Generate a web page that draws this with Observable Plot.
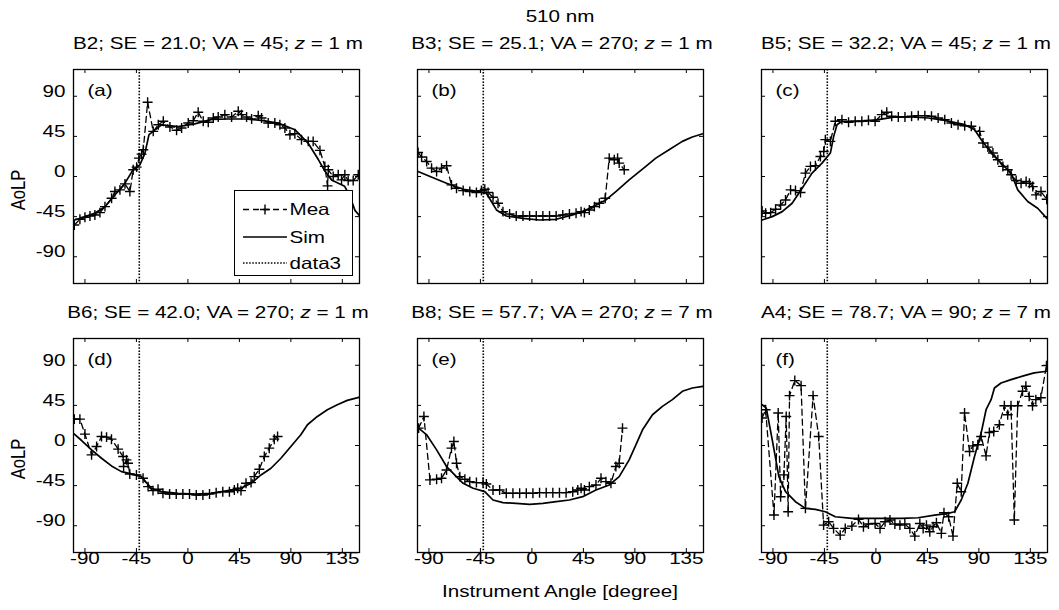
<!DOCTYPE html>
<html>
<head>
<meta charset="utf-8">
<script src="https://cdn.jsdelivr.net/npm/d3@7"></script>
<script src="https://cdn.jsdelivr.net/npm/@observablehq/plot@0.6"></script>
<style>
  html, body { margin: 0; padding: 0; background: #fff; }
  #fig { position: relative; width: 1059px; height: 610px; overflow: hidden; background: #fff; }
  #fig svg { position: absolute; overflow: visible; }
</style>
</head>
<body>
<div id="fig"></div>
<script>
// ---- axis ticks -------------------------------------------------------
const xTicks = [-90, -45, 0, 45, 90, 135];
const yTicks = [-90, -45, 0, 45, 90];
const xDomain = [-100, 150];
const yDomain = [-120, 120];

// ---- panel annotations ------------------------------------------------
const panelLetters = ["(a)", "(b)", "(c)", "(d)", "(e)", "(f)"];
const stations = ["B2", "B3", "B5", "B6", "B8", "A4"];
const sunElevation = ["21.0", "25.1", "32.2", "42.0", "57.7", "78.7"];
const viewAzimuth = [45, 270, 45, 270, 270, 90];
const depth = [1, 1, 1, 1, 7, 7];
const refAngle = -42.5; // dotted vertical reference ("data3")
const wavelength = "510 nm";
const seriesNames = ["Mea", "Sim", "data3"];

// ---- measured AoLP (dashed, + markers) --------------------------------
const meaA = [[-99.3,-54.4],[-94.4,-48],[-90,-45.8],[-85.6,-44.3],[-81.3,-43.1],[-76.9,-40.5],[-72.5,-33.8],[-66.7,-24.4],[-63.8,-16.9],[-59.4,-15],[-55,-8.3],[-50.7,-16.9],[-47.8,7.5],[-44.8,10.5],[-42.8,20.6],[-40.5,25.1],[-39,30],[-35.2,83.3],[-30.3,50.6],[-25.9,58.1],[-21.5,61.9],[-15.7,55.5],[-9.9,51.8],[-5.5,54.4],[0.3,60],[4.7,62.6],[9,72],[13.4,61.9],[17.8,60.8],[22.2,65.6],[26.5,66.8],[32.3,69.4],[38.2,66.8],[44,73.1],[46.9,69.4],[51.3,66.8],[55.7,64.5],[61.5,68.3],[64.4,65.6],[70.2,60],[76,60],[80.4,58.1],[84.8,54.4],[89.2,46.9],[93.5,48],[99.3,41.3],[105.2,39.4],[109.5,39.4],[115.4,29.3],[119.7,11.3],[122.1,-10.5],[122.7,7.5],[127,0],[131.4,1.9],[134.3,-3.8],[137.2,1.9],[140.1,-4.5],[144.5,-4.5],[148.9,1.9]];
const meaB = [[-99.5,27],[-96.4,21.8],[-92,16.9],[-87.7,9.4],[-83.3,5.6],[-79,9.4],[-74.6,12],[-70.3,-9.4],[-65.9,-13.1],[-60.1,-15.8],[-54.3,-16.9],[-48.5,-18],[-44.1,-15.8],[-41.2,-14.3],[-38.3,-18],[-34,-23.3],[-29.6,-30],[-25.3,-39.4],[-19.5,-42],[-13.7,-44.3],[-7.8,-44.3],[-2,-44.3],[3.8,-44.3],[9.6,-44.3],[15.4,-44.3],[21.2,-44.3],[27,-43.1],[32.8,-42],[38.6,-41.3],[43,-39.4],[45.9,-40.5],[50.2,-37.5],[54.6,-33.8],[59,-30],[64.1,-24.4],[67.6,20.6],[72,18.8],[74.9,20.6],[76.3,15],[80.7,7.5]];
const meaC = [[-99.5,-38.6],[-96.4,-41.3],[-92,-40.5],[-87.7,-36.8],[-83.3,-31.9],[-79,-26.3],[-74.6,-15],[-70.3,-15.8],[-65.9,-18],[-61.6,3.8],[-57.2,11.3],[-52.9,12],[-48.5,22.5],[-45.6,28],[-44.2,41.3],[-39.8,39.4],[-35.5,61.9],[-29.7,63.8],[-23.9,60.8],[-18.1,61.9],[-12.3,61.9],[-6.5,63],[-0.7,61.9],[5.1,69.4],[9.5,72],[13.8,67.5],[19.6,66.8],[25.4,66.8],[31.2,67.5],[37,68.3],[42.8,68.3],[48.6,67.5],[54.4,65.6],[60.2,63.8],[66,60],[71.8,58.1],[77.6,56.9],[83.4,56.3],[90.7,50.6],[93.6,37.5],[97.9,33],[102.3,26.3],[106.6,18.8],[111,11.3],[115.3,7.5],[118.2,1.9],[122.6,-4.5],[126.9,-7.5],[131.3,-5.6],[134.2,-7.5],[137.1,-11.3],[140,-20.6],[144.3,-16.9],[149.3,-25.5]];
const meaD = [[-99.3,29.6],[-94.4,29.6],[-90,12.8],[-84.2,-10.5],[-79.8,-1.1],[-75.5,10.1],[-71.1,9.4],[-66.8,7.1],[-61,-4.1],[-56.6,-12.4],[-56.2,-23.6],[-53.7,-16.1],[-52.3,-19.9],[-50.8,-31.9],[-45,-33],[-39.2,-36.8],[-34.8,-46.1],[-30.5,-50.6],[-26.1,-49.1],[-21.8,-53.6],[-16,-54.4],[-10.2,-54.4],[-4.4,-54.4],[1.4,-54.4],[7.3,-55.5],[13.1,-55.5],[18.9,-54.4],[24.7,-52.9],[30.5,-51.8],[36.3,-51.8],[40.6,-49.9],[43.5,-48],[46.4,-50.6],[50.8,-42.4],[55.2,-41.6],[58,-34.9],[62.4,-26.6],[66.8,-12.4],[71.1,-3],[75.5,7.1],[78.4,10.1]];
const meaE = [[-99,19.5],[-94.4,32.6],[-89.1,-38.6],[-83.3,-37.9],[-79,-36.8],[-74.6,-27.4],[-70.3,-3],[-68.2,4.5],[-65.9,-19.9],[-63,-34.9],[-58.6,-37.9],[-54.3,-40.5],[-48.5,-41.6],[-42.7,-41.6],[-39.8,-43.1],[-34,-49.9],[-28.2,-49.9],[-22.4,-53.6],[-16.6,-53.6],[-10.7,-53.6],[-4.9,-53.6],[0.9,-53.6],[6.7,-52.9],[12.5,-52.9],[18.3,-52.9],[24.1,-52.9],[29.9,-52.9],[35.7,-51.8],[40.1,-49.9],[43,-48],[45.9,-49.9],[50.2,-46.1],[56,-44.3],[60.4,-36.8],[64.7,-40.5],[69.1,-42.4],[73.4,-23.6],[76.3,-19.9],[79.2,19.5]];
const meaF = [[-99.5,30.8],[-96.4,40.1],[-89.1,-78],[-85.4,36.4],[-83.3,-57.4],[-80.4,-33],[-78.4,32.6],[-76.7,-74.3],[-75.5,55.9],[-70.9,72.8],[-65.4,67.1],[-61.6,-70.5],[-54.9,55.9],[-50,10.1],[-45.7,-89.3],[-41.3,-85.5],[-37,-93],[-31.2,-100.5],[-26.8,-93],[-21,-90.4],[-15.2,-82.9],[-10.9,-91.1],[-6.5,-88.1],[-0.7,-87.4],[3.6,-93],[8,-85.5],[12.3,-83.6],[16.6,-88.1],[21,-89.3],[25.3,-88.1],[29.7,-93],[34,-101.6],[38.4,-87.4],[41.3,-93],[44.2,-89.3],[47.1,-96.8],[50,-91.1],[52.9,-86.6],[57.2,-98.6],[59.5,-75.4],[63.6,-79.9],[67.4,-101.6],[71.1,-42.4],[74.6,-51.8],[77.5,36.4],[81.9,-6.8],[84.8,-0.4],[89.1,0.8],[92,10.1],[96.3,-11.6],[99.2,14.6],[103,15.8],[107.9,23.3],[112.3,44.6],[115.2,34.5],[118.1,44.6],[121,-83.6],[123.9,44.6],[128.2,60.8],[131.1,66.4],[134,55.1],[136.9,44.6],[139.8,51.4],[144.2,53.6],[149.1,89.6]];

// ---- simulated AoLP (solid) -------------------------------------------
const simA = [[-99.5,-49],[-81,-41],[-72.5,-34],[-64,-21],[-55,-7.5],[-48,7.5],[-42,13],[-37.6,26],[-34,47],[-29,52],[-23,58],[-8.4,56],[6,59],[21,64],[35,64.5],[50,64.5],[64,63],[79,60],[93.5,52.5],[105,37.5],[114,19],[120,5.6],[125.6,-3.8],[137,-11],[141,-20],[146,-38],[150,-44]];
const simB = [[-99.5,5.6],[-89,0],[-74.6,-7.5],[-60,-14.3],[-45.6,-16.9],[-39.8,-18.8],[-35.4,-28],[-31,-37.5],[-22.4,-44.3],[-7.8,-46.9],[6.7,-48.8],[21.2,-48],[35.7,-43],[47.3,-37.5],[56,-31.9],[64.7,-26.3],[73.4,-16.9],[85,-3.8],[99.6,11.3],[108.3,20.6],[119.9,30],[131.5,39.4],[140.2,44.3],[149.5,48]];
const simC = [[-99.5,-48.8],[-90.6,-45],[-81.9,-39.4],[-73.2,-30],[-64.5,-13.1],[-55.8,3.8],[-47.1,15],[-39.8,26.3],[-36.9,45],[-34,58.1],[-29.7,61.9],[-12.3,61.9],[2.2,63.8],[16.7,66.8],[31.2,66.8],[45.7,65.6],[60.2,63],[77.6,58.1],[86.3,52.5],[92.1,41.3],[100.8,26.3],[109.5,15],[118.2,3.8],[124,-15],[132.7,-28],[141.4,-35.6],[149.5,-46.9]];
const simD = [[-99.5,13.1],[-92.9,5.6],[-84.2,-4.9],[-75.5,-14.3],[-66.8,-22.9],[-58.1,-29.3],[-49.4,-31.9],[-40.7,-34.9],[-36.3,-41.6],[-31.9,-48],[-23.2,-51.8],[-8.7,-53.6],[5.8,-54.4],[20.3,-53.6],[34.8,-50.6],[46.4,-48],[55.2,-42.4],[63.9,-33],[72.6,-25.5],[81.3,-14.3],[90,-1.1],[98.7,12],[104.5,23.3],[113.2,32.6],[121.9,40.1],[130.6,45.8],[139.3,50.6],[149.5,54]];
const simE = [[-99,19.5],[-92,12],[-83.3,-4.9],[-74.6,-23.6],[-66,-34.9],[-60.1,-42.4],[-51.4,-48],[-41.2,-51.8],[-34,-61.1],[-25.3,-64.1],[-13.7,-64.9],[-2,-66],[9.6,-64.9],[21.2,-63],[32.8,-61.1],[44.4,-57.4],[56,-49.9],[67.6,-44.3],[76.3,-34.9],[85,-16.1],[90.9,0.8],[96.7,17.6],[105.4,34.5],[114.1,43.9],[122.8,51.4],[131.5,60.8],[140.2,64.5],[149.5,66.4]];
const simF = [[-99.5,45.8],[-95.8,42],[-90.6,6.4],[-84.8,-34.9],[-79,-51.8],[-70.3,-63],[-61.6,-70.5],[-52.9,-71.6],[-44.2,-74.3],[-35.5,-79.9],[-21,-81.8],[-6.5,-81.8],[8,-81.8],[22.4,-81.8],[36.9,-81],[51.4,-78],[63,-76.1],[68.8,-74.3],[74.6,-61.1],[80.4,-42.4],[86.2,-12.4],[92,13.9],[96.3,40.1],[100.7,51.4],[103.6,64.5],[109.4,70.1],[118.1,73.9],[129.7,78.4],[138.4,81.4],[149.5,83.3]];

const measured = [meaA, meaB, meaC, meaD, meaE, meaF];
const simulated = [simA, simB, simC, simD, simE, simF];

// ---- layout -----------------------------------------------------------
const FONT = '"Liberation Sans", Arial, Helvetica, sans-serif';
const FS = 16.5;        // font size in px
const WIDE = 1.25;      // horizontal glyph stretch of the figure text
const colX = [73, 417, 761];
const rowY = [69, 338];
const PW = 286, PH = 214;
const ML = 45, MR = 8, MT = 8, MB = 34;
const TICK = 4;
const DOTTED = "1.5,1.6";
const DASHED = "6,4";

const fig = document.getElementById("fig");

// stretch every text element horizontally about its own anchor point
function widen(svg, k) {
  svg.querySelectorAll("text").forEach(t => {
    const x = parseFloat(t.getAttribute("x")) || 0;
    const y = parseFloat(t.getAttribute("y")) || 0;
    t.removeAttribute("x");
    t.removeAttribute("y");
    const tr = t.getAttribute("transform") || "";
    t.setAttribute("transform", `${tr} translate(${x},${y}) scale(${k},1)`);
  });
}

const X = d => d[0], Y = d => d[1];

for (let i = 0; i < 6; ++i) {
  const col = i % 3, row = Math.floor(i / 3);
  const svg = Plot.plot({
    width: ML + PW + MR,
    height: MT + PH + MB,
    marginLeft: ML, marginRight: MR, marginTop: MT, marginBottom: MB,
    style: {background: "transparent", fontFamily: FONT, fontSize: FS + "px", overflow: "visible", color: "black"},
    x: {domain: xDomain, ticks: xTicks, tickSize: 0, tickPadding: 11, tickFormat: d => String(d), label: null, axis: row === 1 ? "bottom" : null},
    y: {domain: yDomain, ticks: yTicks, tickSize: 0, tickPadding: 8, tickFormat: d => String(d), label: null, axis: col === 0 ? "left" : null},
    marks: [
      Plot.ruleX([refAngle], {x: d => d, stroke: "black", strokeWidth: 1.6, strokeDasharray: DOTTED}),
      Plot.line(simulated[i], {x: X, y: Y, stroke: "black", strokeWidth: 1.7, clip: true}),
      Plot.line(measured[i], {x: X, y: Y, stroke: "black", strokeWidth: 1.3, strokeDasharray: DASHED, clip: true}),
      Plot.dot(measured[i], {x: X, y: Y, symbol: "plus", r: 3.3, fill: "none", stroke: "black", strokeWidth: 1.4, clip: true}),
      // inward tick marks on all four sides
      Plot.ruleX(xTicks, {x: d => d, insetTop: PH - TICK, stroke: "black", strokeWidth: 1}),
      Plot.ruleX(xTicks, {x: d => d, insetBottom: PH - TICK, stroke: "black", strokeWidth: 1}),
      Plot.ruleY(yTicks, {y: d => d, insetRight: PW - TICK, stroke: "black", strokeWidth: 1}),
      Plot.ruleY(yTicks, {y: d => d, insetLeft: PW - TICK, stroke: "black", strokeWidth: 1}),
      Plot.frame({stroke: "black", strokeWidth: 1.3}),
      Plot.text([panelLetters[i]], {text: d => d, frameAnchor: "top-left", dx: 14, dy: 26.5, lineAnchor: "middle", textAnchor: "start", fontSize: FS, fill: "black"})
    ]
  });
  svg.style.left = (colX[col] - ML) + "px";
  svg.style.top = (rowY[row] - MT) + "px";
  widen(svg, WIDE);
  fig.appendChild(svg);
}

// ---- figure-level text and legend ---------------------------------------
const over = d3.create("svg")
  .attr("width", 1059).attr("height", 610)
  .style("left", "0px").style("top", "0px")
  .style("font-family", FONT).style("font-size", FS + "px")
  .attr("fill", "black");

function label(x, y, anchor) {
  return over.append("text")
    .attr("text-anchor", anchor)
    .attr("transform", `translate(${x},${y}) scale(${WIDE},1)`);
}

label(560, 21.5, "middle").text(wavelength);

for (let i = 0; i < 6; ++i) {
  const col = i % 3, row = Math.floor(i / 3);
  const t = label(colX[col] + PW / 2 + 2, rowY[row] - 19.7, "middle");
  t.append("tspan").text(`${stations[i]}; SE = ${sunElevation[i]}; VA = ${viewAzimuth[i]}; `);
  t.append("tspan").attr("font-style", "italic").text("z");
  t.append("tspan").text(` = ${depth[i]} m`);
}

for (const row of [0, 1]) {
  over.append("text")
    .attr("text-anchor", "middle")
    .attr("transform", `translate(25,${rowY[row] + 121}) rotate(-90) scale(1,${WIDE})`)
    .text("AoLP");
}

label(560, 597.3, "middle").text("Instrument Angle [degree]");

// legend inside panel (a)
const lg = over.append("g").attr("transform", "translate(234.5,190.5)");
lg.append("rect").attr("width", 118).attr("height", 85).attr("fill", "white").attr("stroke", "black").attr("stroke-width", 1);
const rowsY = [19, 46.5, 72.5];
const styles = [
  {dash: DASHED, w: 1.3},
  {dash: null, w: 1.7},
  {dash: DOTTED, w: 1.6}
];
seriesNames.forEach((name, k) => {
  const ln = lg.append("line").attr("x1", 8.5).attr("x2", 52.5).attr("y1", rowsY[k]).attr("y2", rowsY[k])
    .attr("stroke", "black").attr("stroke-width", styles[k].w);
  if (styles[k].dash) ln.attr("stroke-dasharray", styles[k].dash);
  if (k === 0) {
    lg.append("path").attr("d", `M25.5,${rowsY[k]}h10M30.5,${rowsY[k] - 5}v10`).attr("stroke", "black").attr("stroke-width", 1.4);
  }
  lg.append("text").attr("transform", `translate(55,${rowsY[k]}) scale(${WIDE},1)`).attr("dy", "0.36em").text(name);
});

fig.appendChild(over.node());
</script>
</body>
</html>
